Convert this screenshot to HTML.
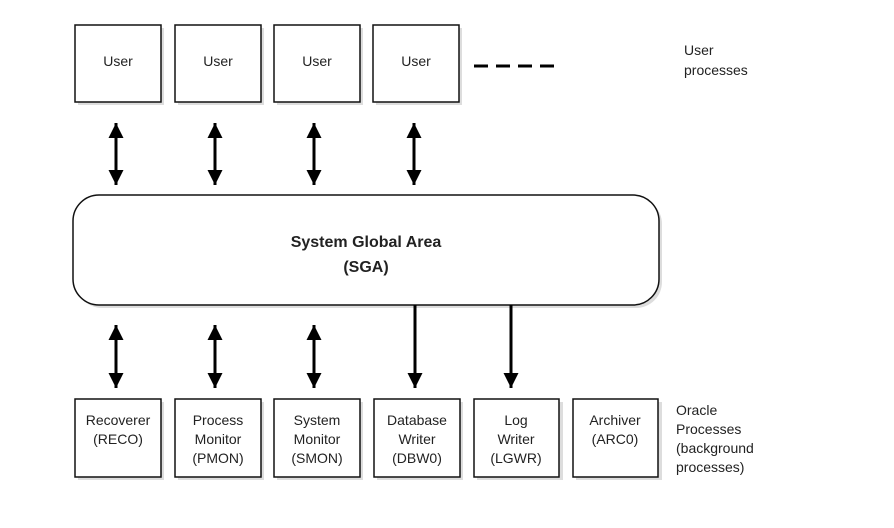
<!DOCTYPE html>
<html><head><meta charset="utf-8"><style>body{margin:0;background:#fff}svg{display:block}text{font-family:"Liberation Sans",sans-serif;font-size:14px;fill:#222}</style></head><body>
<svg width="894" height="528" xmlns="http://www.w3.org/2000/svg">
<defs>
<marker id="a" viewBox="0 0 10 10" refX="10" refY="5" markerWidth="5" markerHeight="5" orient="auto-start-reverse" markerUnits="strokeWidth"><path d="M0,0L10,5L0,10z" fill="#000"/></marker>
</defs>
<g fill="#ddd">
<rect x="78" y="28" width="86" height="77"/><rect x="178" y="28" width="86" height="77"/><rect x="277" y="28" width="86" height="77"/><rect x="376" y="28" width="86" height="77"/>
<rect x="76" y="198" width="586" height="110" rx="26"/>
<rect x="78" y="402" width="86" height="78"/><rect x="178" y="402" width="86" height="78"/><rect x="277" y="402" width="86" height="78"/><rect x="377" y="402" width="86" height="78"/><rect x="477" y="402" width="86" height="78"/><rect x="576" y="402" width="86" height="78"/>
</g>
<g fill="#fff" stroke="#111" stroke-width="1.5">
<rect x="75" y="25" width="86" height="77"/><rect x="175" y="25" width="86" height="77"/><rect x="274" y="25" width="86" height="77"/><rect x="373" y="25" width="86" height="77"/>
<rect x="73" y="195" width="586" height="110" rx="26"/>
<rect x="75" y="399" width="86" height="78"/><rect x="175" y="399" width="86" height="78"/><rect x="274" y="399" width="86" height="78"/><rect x="374" y="399" width="86" height="78"/><rect x="474" y="399" width="85" height="78"/><rect x="573" y="399" width="85" height="78"/>
</g>
<g stroke="#000" stroke-width="3" fill="none">
<line x1="116" y1="123" x2="116" y2="185" marker-start="url(#a)" marker-end="url(#a)"/>
<line x1="215" y1="123" x2="215" y2="185" marker-start="url(#a)" marker-end="url(#a)"/>
<line x1="314" y1="123" x2="314" y2="185" marker-start="url(#a)" marker-end="url(#a)"/>
<line x1="414" y1="123" x2="414" y2="185" marker-start="url(#a)" marker-end="url(#a)"/>
<line x1="116" y1="325" x2="116" y2="388" marker-start="url(#a)" marker-end="url(#a)"/>
<line x1="215" y1="325" x2="215" y2="388" marker-start="url(#a)" marker-end="url(#a)"/>
<line x1="314" y1="325" x2="314" y2="388" marker-start="url(#a)" marker-end="url(#a)"/>
<line x1="415" y1="305" x2="415" y2="388" marker-end="url(#a)"/>
<line x1="511" y1="305" x2="511" y2="388" marker-end="url(#a)"/>
<line x1="474" y1="66" x2="562" y2="66" stroke-dasharray="14,8"/>
</g>
<g text-anchor="middle">
<text x="118" y="66">User</text><text x="218" y="66">User</text><text x="317" y="66">User</text><text x="416" y="66">User</text>
<text x="366" y="247" style="font-weight:bold;font-size:16px">System Global Area</text>
<text x="366" y="272" style="font-weight:bold;font-size:16px">(SGA)</text>
<text x="118" y="425">Recoverer</text><text x="118" y="444">(RECO)</text>
<text x="218" y="425">Process</text><text x="218" y="444">Monitor</text><text x="218" y="463">(PMON)</text>
<text x="317" y="425">System</text><text x="317" y="444">Monitor</text><text x="317" y="463">(SMON)</text>
<text x="417" y="425">Database</text><text x="417" y="444">Writer</text><text x="417" y="463">(DBW0)</text>
<text x="516" y="425">Log</text><text x="516" y="444">Writer</text><text x="516" y="463">(LGWR)</text>
<text x="615" y="425">Archiver</text><text x="615" y="444">(ARC0)</text>
</g>
<text x="684" y="55">User</text><text x="684" y="75">processes</text>
<text x="676" y="415">Oracle</text><text x="676" y="434">Processes</text><text x="676" y="453">(background</text><text x="676" y="472">processes)</text>
</svg>
</body></html>
